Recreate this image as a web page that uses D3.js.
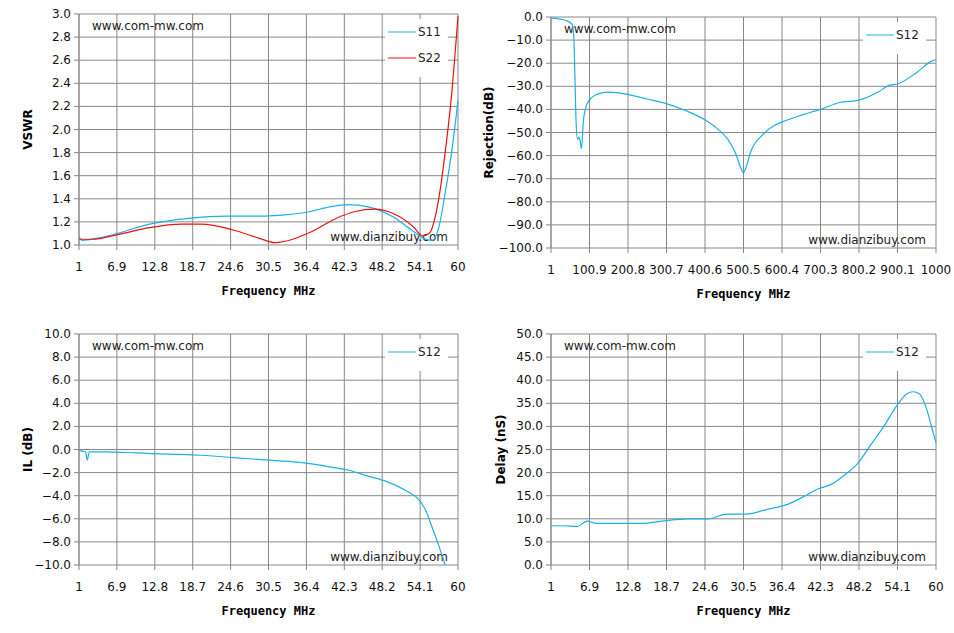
<!DOCTYPE html>
<html><head><meta charset="utf-8">
<script src="https://cdn.jsdelivr.net/npm/d3@7"></script>
<style>
body{margin:0;background:#fff;font-family:"DejaVu Sans",Verdana,sans-serif}
</style></head><body>
<svg id="c" width="954" height="633"></svg>
<script>
// VSWR chart
const s11 = [[1,1.07],[1.5,1.04],[4,1.06],[7,1.1],[12,1.18],[18,1.23],[24,1.25],[30,1.25],[33,1.26],[37,1.29],[40,1.33],[43,1.35],[46,1.33],[50,1.24],[53,1.12],[55,1.05],[56,1.04],[57,1.15],[58,1.45],[59,1.8],[60,2.25]];
const s22 = [[1,1.05],[3,1.05],[7,1.09],[12,1.15],[17,1.18],[20,1.18],[25,1.13],[29,1.06],[31.5,1.02],[33,1.03],[37,1.11],[41,1.23],[44,1.29],[47,1.31],[50,1.27],[53,1.16],[54.5,1.08],[55.5,1.1],[57,1.4],[58,1.8],[59,2.3],[60,2.98]];
// Rejection chart
const rej = [[1,-0.5],[20,-0.8],[40,-1.5],[55,-3],[60,-8],[63,-25],[66,-45],[70,-53],[73,-52],[77,-54],[80,-57],[85,-45],[90,-40],[100,-36],[120,-33.5],[150,-32.5],[200,-33.5],[250,-35.5],[300,-37.5],[350,-40.5],[400,-44.5],[430,-48],[460,-53],[480,-59],[495,-66],[500,-67.5],[505,-66],[520,-58],[550,-51],[580,-47],[600,-45.5],[650,-42.5],[700,-40],[750,-37],[800,-36],[850,-32.5],[880,-29.5],[900,-29],[950,-24],[990,-19],[1000,-18.5]];
// Insertion loss
const il = [[1,-0.1],[2,-0.2],[2.3,-0.9],[2.6,-0.2],[5,-0.2],[10,-0.3],[15,-0.4],[20,-0.5],[25,-0.7],[30,-0.9],[35,-1.1],[40,-1.5],[43,-1.8],[46,-2.3],[49,-2.8],[52,-3.6],[54,-4.4],[55,-5.3],[56,-6.8],[57,-8.3],[58,-10]];
// Group delay
const delay = [[1,8.5],[3,8.5],[5,8.3],[6.5,9.5],[8,9],[12,9],[15,9],[18,9.5],[22,10],[25,10],[28,11],[31,11],[34,12],[37,13],[40,15],[42,16.5],[44,17.5],[46,19.5],[48,22],[50,26],[52,30],[54,34.5],[55.5,37],[56.5,37.5],[57.5,37],[58.5,34],[59.5,29],[60,26.5]];

const xt60 = ["1","6.9","12.8","18.7","24.6","30.5","36.4","42.3","48.2","54.1","60"];
const xt1000 = ["1","100.9","200.8","300.7","400.6","500.5","600.4","700.3","800.2","900.1","1000"];

const svg = d3.select("#c");
const BLUE = "#1ab0e8", RED = "#ee1111";

function panel(o) {
  const g = svg.append("g");
  const x = d3.scaleLinear().domain(o.xd).range([o.l, o.r]);
  const y = d3.scaleLinear().domain(o.yd).range([o.b, o.t]);
  const yt = d3.range(o.yd[0], o.yd[1] + o.ys / 2, o.ys);
  const xv = o.xt.map(Number);
  g.selectAll(".gy").data(yt).join("line")
    .attr("x1", o.l - 5).attr("x2", o.r).attr("y1", d => y(d)).attr("y2", d => y(d))
    .attr("stroke", "#888").attr("stroke-width", 1);
  g.selectAll(".gx").data(xv).join("line")
    .attr("y1", o.t).attr("y2", o.b + 5).attr("x1", d => x(d)).attr("x2", d => x(d))
    .attr("stroke", "#888").attr("stroke-width", 1);
  g.selectAll(".ly").data(yt).join("text")
    .attr("x", o.l - 8).attr("y", d => y(d) + 4).attr("text-anchor", "end")
    .attr("font-size", 12).attr("fill", "#111").text(d => d3.format(o.yf)(d));
  g.selectAll(".lx").data(o.xt).join("text")
    .attr("x", d => x(+d)).attr("y", o.b + 26).attr("text-anchor", "middle")
    .attr("font-size", 12).attr("fill", "#111").text(d => d);
  g.append("text").attr("x", (o.l + o.r) / 2).attr("y", o.b + 50).attr("text-anchor", "middle")
    .attr("font-size", 12).attr("font-weight", "bold").attr("font-family", "'DejaVu Sans Mono',monospace").text("Frequency MHz");
  g.append("text").attr("transform", `translate(${o.yl},${(o.t + o.b) / 2}) rotate(-90)`)
    .attr("text-anchor", "middle").attr("font-size", 12).attr("font-weight", "bold").text(o.ylabel);
  // legend box
  g.append("rect").attr("x", o.r - 73).attr("y", o.t + 5).attr("width", 63).attr("height", o.series.length * 26 + 6).attr("fill", "#fff");
  g.append("text").attr("x", o.l + 13).attr("y", o.t + 16).attr("font-size", 12).attr("fill", "#222").text("www.com-mw.com");
  g.append("text").attr("x", o.r - 10).attr("y", o.b - 4).attr("text-anchor", "end").attr("font-size", 12).attr("fill", "#222").text("www.dianzibuy.com");
  const line = d3.line().x(d => x(d[0])).y(d => y(Math.max(o.yd[0], d[1]))).curve(d3.curveMonotoneX);
  o.series.forEach((s, i) => {
    g.append("path").attr("d", line(s.data)).attr("fill", "none").attr("stroke", s.c).attr("stroke-width", 1.2);
    const ly = o.t + 18 + i * 26;
    g.append("line").attr("x1", o.r - 70).attr("x2", o.r - 42).attr("y1", ly).attr("y2", ly).attr("stroke", s.c);
    g.append("text").attr("x", o.r - 40).attr("y", ly + 4).attr("font-size", 12).attr("fill", "#222").text(s.n);
  });
  g.append("line").attr("x1", o.l).attr("x2", o.l).attr("y1", o.t).attr("y2", o.b).attr("stroke", "#888");
}

panel({l:79, r:458, t:14, b:245, xd:[1,60], xt:xt60, yd:[1,3], ys:0.2, yf:".1f", ylabel:"VSWR", yl:32,
  series:[{n:"S11", c:BLUE, data:s11}, {n:"S22", c:RED, data:s22}]});
panel({l:551, r:936, t:17, b:248, xd:[1,1000], xt:xt1000, yd:[-100,0], ys:10, yf:".1f", ylabel:"Rejection(dB)", yl:493,
  series:[{n:"S12", c:BLUE, data:rej}]});
panel({l:79, r:458, t:334, b:565, xd:[1,60], xt:xt60, yd:[-10,10], ys:2, yf:".1f", ylabel:"IL (dB)", yl:32,
  series:[{n:"S12", c:BLUE, data:il}]});
panel({l:551, r:936, t:334, b:565, xd:[1,60], xt:xt60, yd:[0,50], ys:5, yf:".1f", ylabel:"Delay (nS)", yl:505,
  series:[{n:"S12", c:BLUE, data:delay}]});
</script>
</body></html>
